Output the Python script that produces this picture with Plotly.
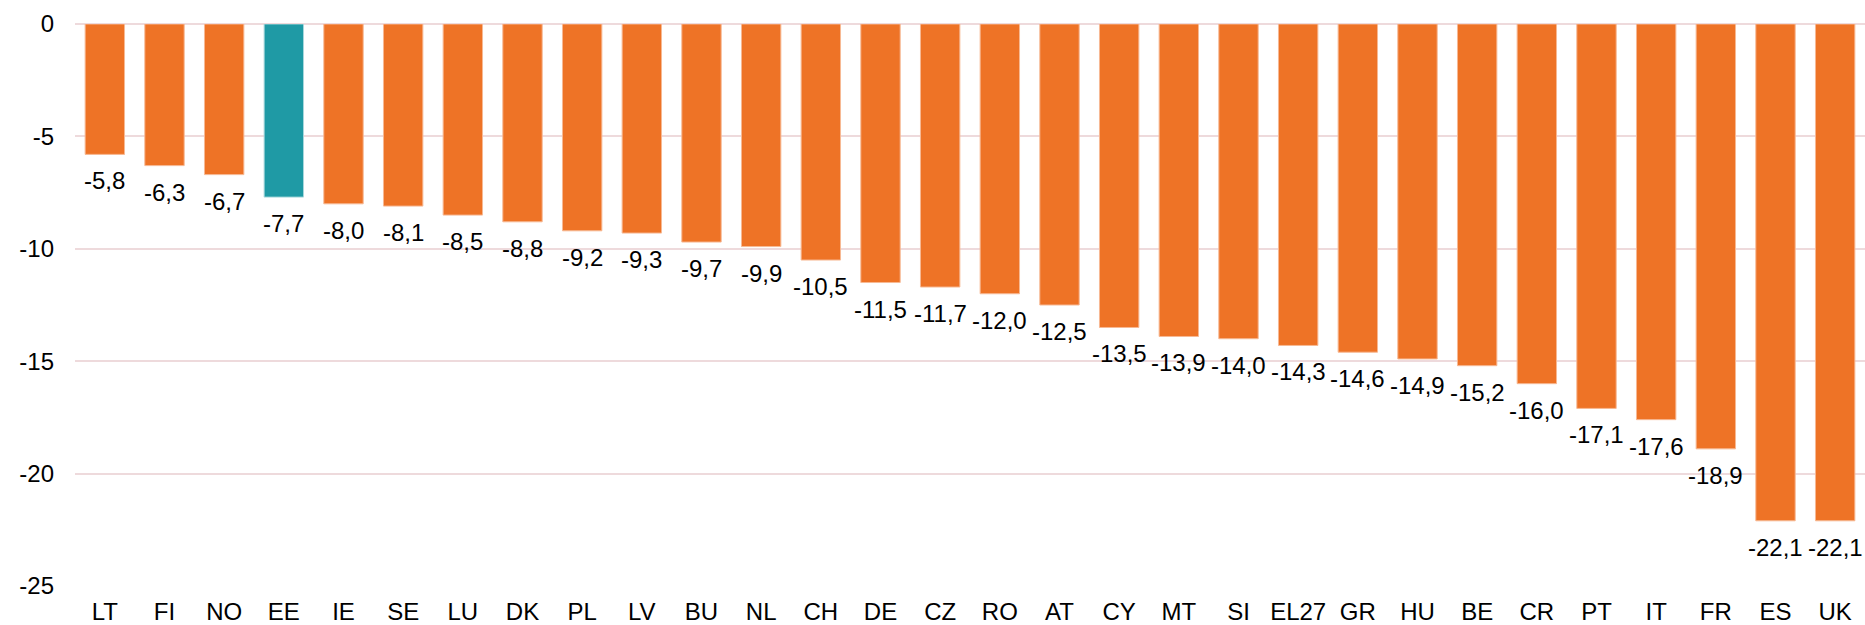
import plotly.graph_objects as go

categories = ["LT", "FI", "NO", "EE", "IE", "SE", "LU", "DK", "PL", "LV", "BU", "NL", "CH", "DE", "CZ",
              "RO", "AT", "CY", "MT", "SI", "EL27", "GR", "HU", "BE", "CR", "PT", "IT", "FR", "ES", "UK"]
values = [-5.8, -6.3, -6.7, -7.7, -8.0, -8.1, -8.5, -8.8, -9.2, -9.3, -9.7, -9.9, -10.5, -11.5, -11.7,
          -12.0, -12.5, -13.5, -13.9, -14.0, -14.3, -14.6, -14.9, -15.2, -16.0, -17.1, -17.6, -18.9, -22.1, -22.1]
highlight = "EE"
y_ticks = [0, -5, -10, -15, -20, -25]

ORANGE = "#EE7326"
TEAL = "#1F9AA5"
colors = [TEAL if c == highlight else ORANGE for c in categories]
edge = ["#A9D8DC" if c == highlight else "#F7B994" for c in categories]
labels = [f"{v:.1f}".replace(".", ",") for v in values]

FONT = "Liberation Sans, Arial"

fig = go.Figure()
fig.add_trace(go.Bar(
    x=categories, y=values,
    marker=dict(color=colors, line=dict(color=edge, width=1)),
    width=0.66,
    hoverinfo="x+y",
))

for c, v, t in zip(categories, values, labels):
    fig.add_annotation(x=c, y=v, text=t, showarrow=False, yanchor="top", yshift=-11,
                       font=dict(family=FONT, size=24, color="#000000"))

fig.update_layout(
    width=1865, height=625,
    margin=dict(l=75, r=0, t=24, b=39),
    paper_bgcolor="white", plot_bgcolor="white",
    showlegend=False,
    font=dict(family=FONT, size=24, color="#000000"),
    xaxis=dict(showgrid=False, showline=False, ticks="", tickfont=dict(size=24), ticklabelstandoff=9,
               automargin=False),
    yaxis=dict(range=[-25, 0], tickvals=y_ticks, ticktext=[str(t) for t in y_ticks],
               showgrid=True, gridcolor="#EEDADC", gridwidth=1.5, zeroline=True, zerolinecolor="#EEDADC",
               zerolinewidth=1.5, showline=False, ticks="", tickfont=dict(size=24), ticklabelstandoff=20,
               automargin=False),
)

fig.write_html("out.html", config={"displayModeBar": False},
               post_script="document.body.style.margin='0';document.body.style.overflow='hidden';")
